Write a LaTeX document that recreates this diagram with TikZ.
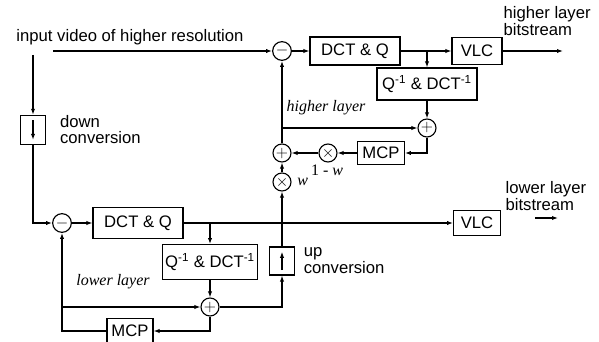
\documentclass[tikz,border=0pt]{standalone}
\usepackage{fontspec}
\setmainfont{Liberation Sans}
\newfontfamily\timesf{Liberation Serif}
\usetikzlibrary{arrows.meta,positioning}

\begin{document}
\begin{tikzpicture}[x=0.75pt,y=-0.75pt,line width=0.85pt,>={Latex[length=4.5pt,width=3.2pt]},
  font=\fontsize{12.5}{11}\selectfont,
  blk/.style 2 args={draw,minimum width=#1,minimum height=#2,inner sep=0pt},
  sm/.style={draw,circle,minimum size=13.5pt,inner sep=0pt},
  cv/.style={draw,minimum width=19pt,minimum height=22pt,inner sep=0pt},
  lb/.style={align=left,inner sep=0pt},
  lay/.style={font=\fontsize{12}{12}\selectfont\timesf\itshape,inner sep=0pt}]
  \useasboundingbox (0,0) rectangle (599,342);
  % higher layer
  \node[inner sep=0pt] (title) at (130,37) {input video of higher resolution};
  \coordinate (inH) at (53,51);
  \node[sm,minimum size=14pt] (minusH) at (282,51) {$-$};
  \node[blk={67.5pt}{21pt}] (dctH) at (355,51) {DCT \& Q};
  \node[blk={37.5pt}{20pt}] (vlcH) at (477,51) {VLC};
  \node[blk={75pt}{24pt}] (iqH) at (427,84) {Q\textsuperscript{-1} \& DCT\textsuperscript{-1}};
  \node[sm] (plusH) at (427,128) {$+$};
  \node[blk={35pt}{17pt}] (mcpH) at (381,153) {MCP};
  \node[sm] (timesH) at (328,153) {$\times$};
  \node[sm] (sumH) at (282,153) {$+$};
  \node[sm] (timesW) at (282,182) {$\times$};
  \node[lay] (hl) at (326,108) {higher layer};
  \node[lay] (oneW) at (327,170) {\upshape 1 - \itshape w};
  \node[lay,right=4pt of timesW] (wlab) {w};
  \coordinate (outH) at (563,51);
  \node[lb,anchor=north west,font=\fontsize{12.5}{10.5}\selectfont] (bsH) at (503,6) {higher layer\\bitstream};
  % lower layer
  \coordinate (inL) at (33,55);
  \node[cv] (down) at (33,130) {};
  \node[lb,right=10pt of down,font=\fontsize{12.5}{12}\selectfont] (dl) {down\\conversion};
  \node[sm,minimum size=14pt] (minusL) at (62,223) {$-$};
  \node[blk={67.5pt}{23pt}] (dctL) at (138,223) {DCT \& Q};
  \node[blk={35pt}{19pt}] (vlcL) at (477,223) {VLC};
  \node[blk={71pt}{26pt}] (iqL) at (210,262) {Q\textsuperscript{-1} \& DCT\textsuperscript{-1}};
  \node[sm] (plusL) at (210,307) {$+$};
  \node[blk={34.5pt}{19pt}] (mcpL) at (130,331) {MCP};
  \node[cv,minimum height=21pt] (up) at (282,261) {};
  \node[lb,right=6pt of up,font=\fontsize{12.5}{10.5}\selectfont] (ul) {up\\conversion};
  \node[lay] (ll) at (113,282) {lower layer};
  \node[lb,anchor=north west,font=\fontsize{12.5}{10.5}\selectfont] (bsL) at (505,181) {lower layer\\bitstream};
  \coordinate (aL) at (535,218);
  \coordinate (bL) at (558,218);
  % connectors higher
  \draw[->] (inH) -- (minusH);
  \draw[->] (minusH) -- (dctH);
  \draw[->] (dctH) -- (vlcH);
  \draw[->] (dctH.east -| iqH.north) -- (iqH);
  \draw[->] (iqH) -- (plusH);
  \draw[->] (plusH.south) |- (mcpH.east);
  \draw[->] (mcpH) -- (timesH);
  \draw[->] (timesH) -- (sumH);
  \draw[->] (sumH) -- (minusH);
  \draw[->] (sumH |- plusH) -- (plusH);
  \draw[->] (timesW) -- (sumH);
  \draw[->] (vlcH) -- (outH);
  % connectors lower
  \draw[->] (inL) -- (down);
  \draw[->] (down.south) |- (minusL.west);
  \draw[->] (minusL) -- (dctL);
  \draw[->] (dctL) -- (vlcL);
  \draw[->] (dctL.east -| iqL.north) -- (iqL);
  \draw[->] (iqL) -- (plusL);
  \draw[->] (plusL.south) |- (mcpL.east);
  \draw[->] (mcpL.west) -| (minusL.south);
  \draw[->] (minusL |- plusL) -- (plusL);
  \draw[->] (plusL.east) -| (up.south);
  \draw[->] (up) -- (timesW);
  \draw[->] (aL) -- (bL);
  % arrows in the conversion boxes
  \draw[->] ([yshift=-4pt]down.north) -- ([yshift=4pt]down.south);
  \draw[->] ([yshift=4pt]up.south) -- ([yshift=-4pt]up.north);
\end{tikzpicture}
\end{document}
